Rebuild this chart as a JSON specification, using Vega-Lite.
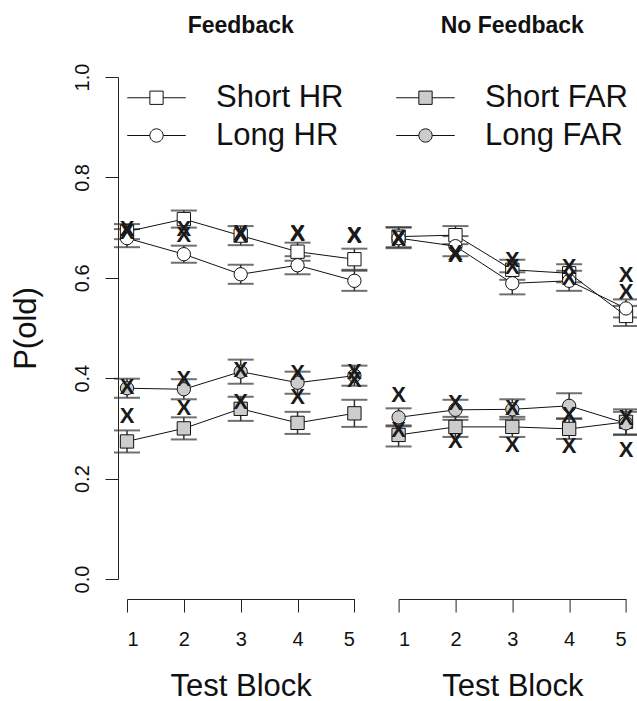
{
  "$schema": "https://vega.github.io/schema/vega-lite/v6.json",
  "padding": {"left": 10, "top": 15, "right": 0, "bottom": 0},
  "background": "white",
  "bounds": "flush",
  "data": {"values": [
    {"cond": "Feedback", "block": 1, "series": "Short HR", "mean": 0.692, "lo": 0.677, "hi": 0.707, "model": 0.697},
    {"cond": "Feedback", "block": 2, "series": "Short HR", "mean": 0.717, "lo": 0.700, "hi": 0.734, "model": 0.698},
    {"cond": "Feedback", "block": 3, "series": "Short HR", "mean": 0.684, "lo": 0.665, "hi": 0.703, "model": 0.690},
    {"cond": "Feedback", "block": 4, "series": "Short HR", "mean": 0.652, "lo": 0.634, "hi": 0.670, "model": 0.690},
    {"cond": "Feedback", "block": 5, "series": "Short HR", "mean": 0.637, "lo": 0.616, "hi": 0.658, "model": 0.686},
    {"cond": "Feedback", "block": 1, "series": "Long HR", "mean": 0.679, "lo": 0.661, "hi": 0.697, "model": 0.692},
    {"cond": "Feedback", "block": 2, "series": "Long HR", "mean": 0.647, "lo": 0.630, "hi": 0.664, "model": 0.685},
    {"cond": "Feedback", "block": 3, "series": "Long HR", "mean": 0.607, "lo": 0.588, "hi": 0.626, "model": 0.686},
    {"cond": "Feedback", "block": 4, "series": "Long HR", "mean": 0.625, "lo": 0.607, "hi": 0.643, "model": 0.688},
    {"cond": "Feedback", "block": 5, "series": "Long HR", "mean": 0.594, "lo": 0.574, "hi": 0.614, "model": 0.684},
    {"cond": "Feedback", "block": 1, "series": "Short FAR", "mean": 0.274, "lo": 0.252, "hi": 0.296, "model": 0.325},
    {"cond": "Feedback", "block": 2, "series": "Short FAR", "mean": 0.300, "lo": 0.278, "hi": 0.322, "model": 0.340},
    {"cond": "Feedback", "block": 3, "series": "Short FAR", "mean": 0.339, "lo": 0.315, "hi": 0.363, "model": 0.353},
    {"cond": "Feedback", "block": 4, "series": "Short FAR", "mean": 0.311, "lo": 0.289, "hi": 0.333, "model": 0.363},
    {"cond": "Feedback", "block": 5, "series": "Short FAR", "mean": 0.330, "lo": 0.303, "hi": 0.357, "model": 0.396},
    {"cond": "Feedback", "block": 1, "series": "Long FAR", "mean": 0.380, "lo": 0.361, "hi": 0.399, "model": 0.383},
    {"cond": "Feedback", "block": 2, "series": "Long FAR", "mean": 0.378, "lo": 0.358, "hi": 0.398, "model": 0.398},
    {"cond": "Feedback", "block": 3, "series": "Long FAR", "mean": 0.413, "lo": 0.389, "hi": 0.437, "model": 0.416},
    {"cond": "Feedback", "block": 4, "series": "Long FAR", "mean": 0.391, "lo": 0.369, "hi": 0.413, "model": 0.411},
    {"cond": "Feedback", "block": 5, "series": "Long FAR", "mean": 0.405, "lo": 0.385, "hi": 0.425, "model": 0.413},
    {"cond": "No Feedback", "block": 1, "series": "Short HR", "mean": 0.682, "lo": 0.661, "hi": 0.701, "model": 0.679},
    {"cond": "No Feedback", "block": 2, "series": "Short HR", "mean": 0.685, "lo": 0.667, "hi": 0.703, "model": 0.650},
    {"cond": "No Feedback", "block": 3, "series": "Short HR", "mean": 0.616, "lo": 0.596, "hi": 0.636, "model": 0.635},
    {"cond": "No Feedback", "block": 4, "series": "Short HR", "mean": 0.609, "lo": 0.591, "hi": 0.627, "model": 0.622},
    {"cond": "No Feedback", "block": 5, "series": "Short HR", "mean": 0.524, "lo": 0.504, "hi": 0.544, "model": 0.606},
    {"cond": "No Feedback", "block": 1, "series": "Long HR", "mean": 0.679, "lo": 0.659, "hi": 0.700, "model": 0.677},
    {"cond": "No Feedback", "block": 2, "series": "Long HR", "mean": 0.663, "lo": 0.643, "hi": 0.683, "model": 0.645},
    {"cond": "No Feedback", "block": 3, "series": "Long HR", "mean": 0.589, "lo": 0.567, "hi": 0.611, "model": 0.622},
    {"cond": "No Feedback", "block": 4, "series": "Long HR", "mean": 0.594, "lo": 0.574, "hi": 0.614, "model": 0.599},
    {"cond": "No Feedback", "block": 5, "series": "Long HR", "mean": 0.539, "lo": 0.521, "hi": 0.557, "model": 0.572},
    {"cond": "No Feedback", "block": 1, "series": "Short FAR", "mean": 0.287, "lo": 0.264, "hi": 0.306, "model": 0.297},
    {"cond": "No Feedback", "block": 2, "series": "Short FAR", "mean": 0.303, "lo": 0.283, "hi": 0.323, "model": 0.274},
    {"cond": "No Feedback", "block": 3, "series": "Short FAR", "mean": 0.303, "lo": 0.283, "hi": 0.323, "model": 0.267},
    {"cond": "No Feedback", "block": 4, "series": "Short FAR", "mean": 0.299, "lo": 0.279, "hi": 0.319, "model": 0.264},
    {"cond": "No Feedback", "block": 5, "series": "Short FAR", "mean": 0.313, "lo": 0.288, "hi": 0.338, "model": 0.257},
    {"cond": "No Feedback", "block": 1, "series": "Long FAR", "mean": 0.322, "lo": 0.304, "hi": 0.340, "model": 0.367},
    {"cond": "No Feedback", "block": 2, "series": "Long FAR", "mean": 0.337, "lo": 0.317, "hi": 0.357, "model": 0.351},
    {"cond": "No Feedback", "block": 3, "series": "Long FAR", "mean": 0.338, "lo": 0.318, "hi": 0.358, "model": 0.340},
    {"cond": "No Feedback", "block": 4, "series": "Long FAR", "mean": 0.345, "lo": 0.320, "hi": 0.370, "model": 0.327},
    {"cond": "No Feedback", "block": 5, "series": "Long FAR", "mean": 0.310, "lo": 0.287, "hi": 0.333, "model": 0.320}
  ]},
  "facet": {
    "column": {
      "field": "cond", "type": "nominal", "sort": ["Feedback", "No Feedback"],
      "header": {"title": null, "labelFont": "Liberation Sans", "labelFontSize": 23, "labelFontWeight": "bold", "labelColor": "#111", "labelPadding": 39}
    }
  },
  "spacing": 43.6,
  "spec": {
    "width": 227.4,
    "height": 502,
    "layer": [
      {
        "mark": {"type": "errorbar", "ticks": {"size": 26, "thickness": 2, "color": "#333"}, "rule": {"color": "#333", "strokeWidth": 1.5}},
        "encoding": {
          "x": {"field": "block", "type": "quantitative", "scale": {"domain": [1, 5], "nice": false, "zero": false},
                "axis": {"values": [1, 2, 3, 4, 5], "format": "d", "title": "Test Block", "offset": 20, "labelPadding": 17, "titlePadding": 22, "labelAngle": 0}},
          "y": {"field": "lo", "type": "quantitative", "scale": {"domain": [0, 1], "nice": false, "zero": false},
                "axis": {"values": [0, 0.2, 0.4, 0.6, 0.8, 1.0], "format": ".1f", "title": "P(old)", "offset": 9, "labelAngle": 270, "labelPadding": 13, "titlePadding": 30}},
          "y2": {"field": "hi"},
          "detail": {"field": "series"}
        }
      },
      {
        "mark": {"type": "line", "color": "#111", "strokeWidth": 1},
        "encoding": {
          "x": {"field": "block", "type": "quantitative"},
          "y": {"field": "mean", "type": "quantitative"},
          "detail": {"field": "series"}
        }
      },
      {
        "mark": {"type": "point", "filled": true, "stroke": "#111", "strokeWidth": 1, "size": 177, "opacity": 1},
        "encoding": {
          "x": {"field": "block", "type": "quantitative"},
          "y": {"field": "mean", "type": "quantitative"},
          "shape": {"condition": {"test": "test(/Short/, datum.series)", "value": "square"}, "value": "circle"},
          "fill": {"field": "series", "type": "nominal",
                   "scale": {"domain": ["Short HR", "Long HR", "Short FAR", "Long FAR"], "range": ["#ffffff", "#ffffff", "#cccccc", "#cccccc"]},
                   "legend": {"title": null}}
        }
      },
      {
        "transform": [{"filter": "false"}],
        "mark": {"type": "point", "filled": true, "size": 177},
        "encoding": {
          "x": {"field": "block", "type": "quantitative"},
          "y": {"field": "mean", "type": "quantitative"},
          "shape": {"field": "series", "type": "nominal",
                    "scale": {"domain": ["Short HR", "Long HR", "Short FAR", "Long FAR"],
                              "range": ["M-4.4,0H-1M1,0H4.4M-1,-1H1V1H-1Z", "M-4.4,0H-1M1,0H4.4M1,0A1,1,0,1,1,-1,0A1,1,0,1,1,1,0Z", "M-4.4,0H-1M1,0H4.4M-1,-1H1V1H-1Z", "M-4.4,0H-1M1,0H4.4M1,0A1,1,0,1,1,-1,0A1,1,0,1,1,1,0Z"]},
                    "legend": {"title": null}},
          "fill": {"field": "series", "type": "nominal", "legend": {"title": null}},
          "stroke": {"field": "series", "type": "nominal",
                     "scale": {"domain": ["Short HR", "Long HR", "Short FAR", "Long FAR"], "range": ["#111111", "#111111", "#111111", "#111111"]},
                     "legend": {"title": null}}
        }
      },
      {
        "mark": {"type": "text", "text": "X", "font": "Liberation Sans", "fontSize": 22, "fontWeight": "bold", "color": "#1a1a1a", "baseline": "middle", "align": "center"},
        "encoding": {
          "x": {"field": "block", "type": "quantitative"},
          "y": {"field": "model", "type": "quantitative"}
        }
      }
    ]
  },
  "config": {
    "view": {"stroke": null},
    "font": "Liberation Sans",
    "axis": {"grid": false, "domainColor": "#222", "tickColor": "#222", "labelColor": "#111", "titleColor": "#111",
             "labelFont": "Liberation Sans", "titleFont": "Liberation Sans", "labelFontSize": 20, "titleFontSize": 31,
             "titleFontWeight": "normal", "tickSize": 13, "domainWidth": 1, "tickWidth": 1},
    "legend": {
      "orient": "none", "legendX": 14, "legendY": 5, "columns": 2, "columnPadding": 50, "rowPadding": 6,
      "labelFont": "Liberation Sans", "labelFontSize": 31, "labelColor": "#111", "labelOffset": 44, "labelLimit": 400,
      "symbolSize": 177, "symbolStrokeWidth": 1, "symbolStrokeColor": "#111", "padding": 0
    },
    "point": {"size": 177}
  }
}
